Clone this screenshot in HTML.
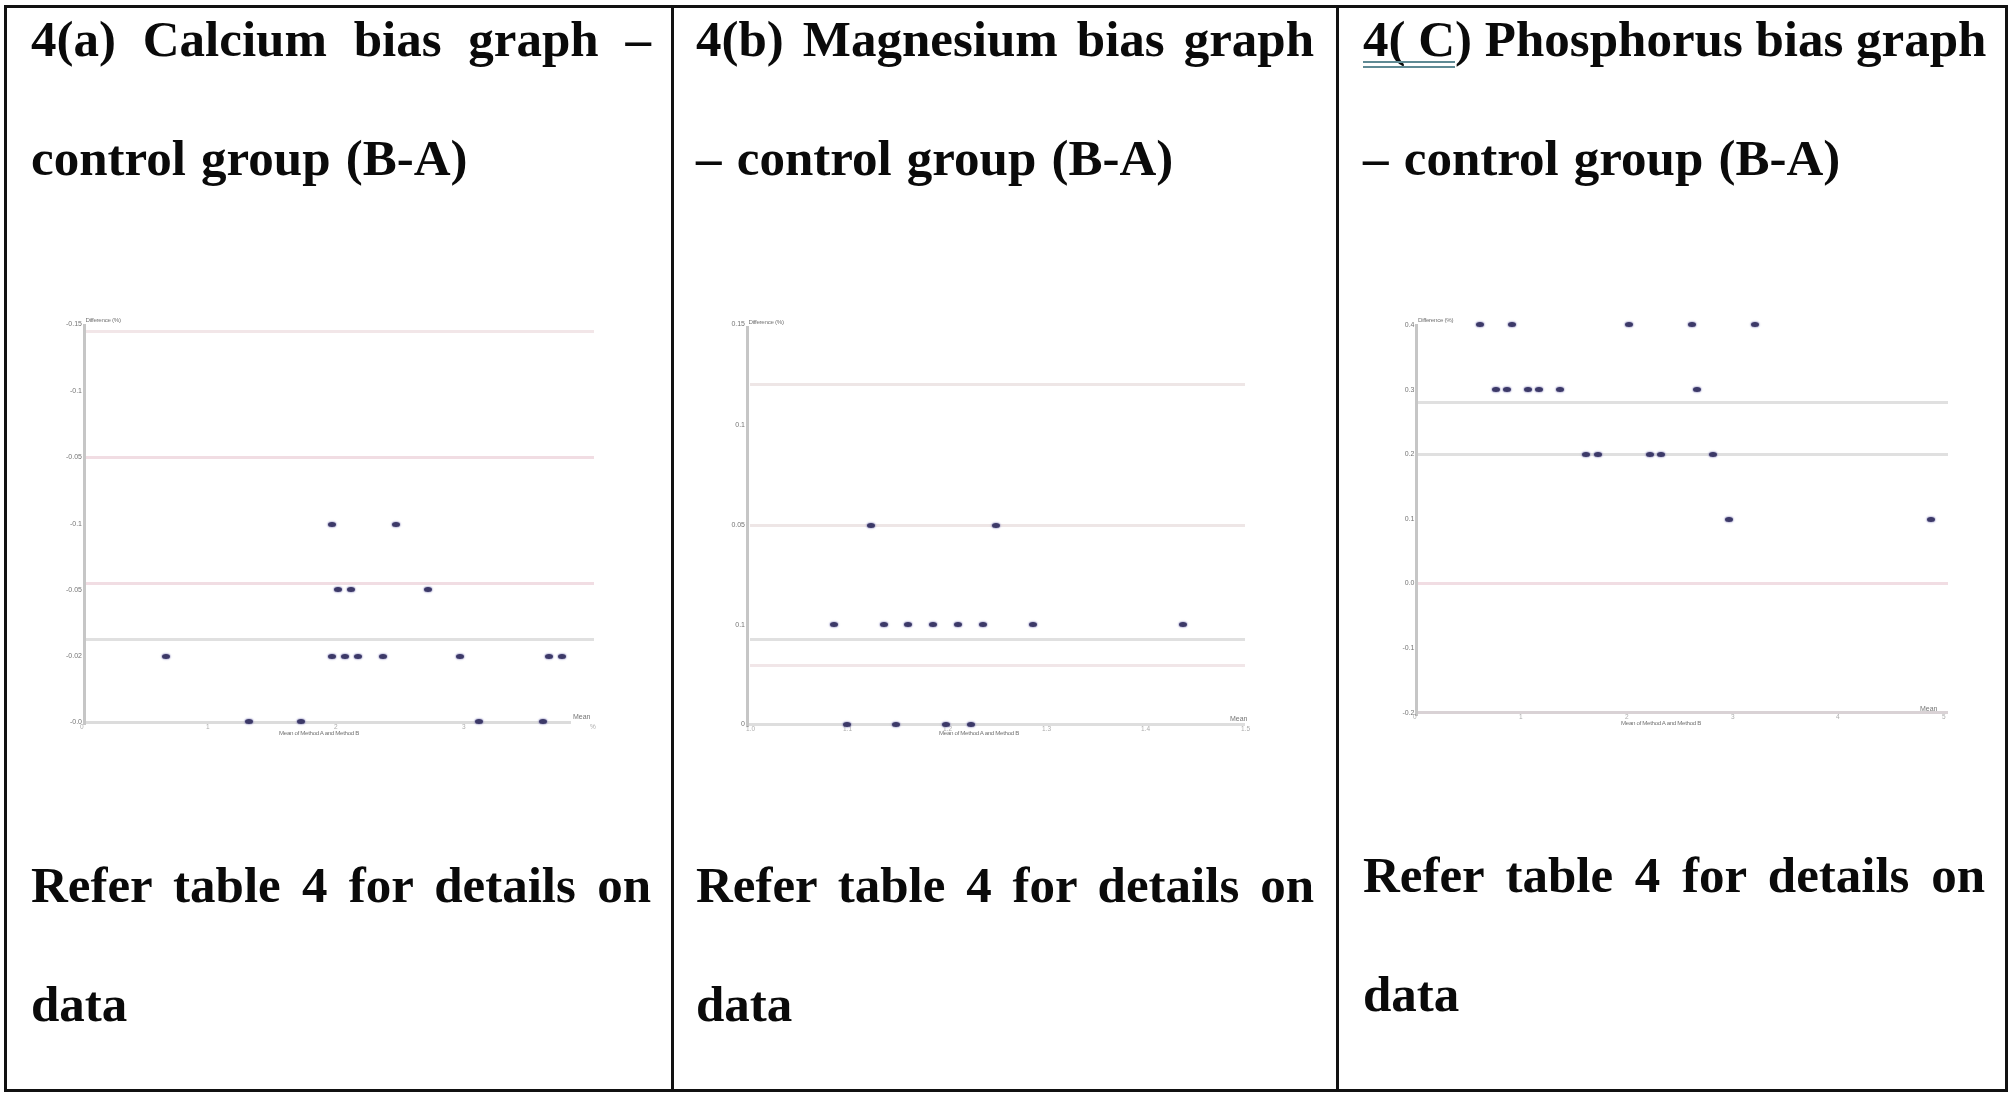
<!DOCTYPE html>
<html><head><meta charset="utf-8"><style>
html,body{margin:0;padding:0;background:#fff;}
body{width:2015px;height:1097px;position:relative;overflow:hidden;}
.t{position:absolute;font-family:"Liberation Serif",serif;font-weight:bold;font-size:51px;line-height:51px;white-space:nowrap;color:#0a0a0a;}
.b{position:absolute;background:#111;}
.r{position:absolute;}
.tk{position:absolute;font-family:"Liberation Sans",sans-serif;line-height:8px;color:#444;white-space:nowrap;opacity:.75;filter:blur(0.5px);}
.p{position:absolute;width:8px;height:5px;border-radius:50%;background:#3c3968;box-shadow:0 0 1.3px 0.7px rgba(95,90,165,.45);}
</style></head><body>
<div class="b" style="left:5px;top:5px;width:2003px;height:3px;"></div>
<div class="b" style="left:4px;top:5px;width:3px;height:1087px;"></div>
<div class="b" style="left:2005px;top:5px;width:3px;height:1087px;"></div>
<div class="b" style="left:4px;top:1089px;width:2004px;height:3px;"></div>
<div class="b" style="left:671px;top:5px;width:3px;height:1087px;"></div>
<div class="b" style="left:1336px;top:5px;width:3px;height:1087px;"></div>
<div class="t" style="left:31px;top:13.79px;width:620px;text-align:justify;text-align-last:justify;">4(a) Calcium bias graph &ndash;</div>
<div class="t" style="left:31px;top:132.79px;width:620px;word-spacing:2.5px;">control group (B-A)</div>
<div class="t" style="left:31px;top:860.09px;width:620px;text-align:justify;text-align-last:justify;">Refer table 4 for details on</div>
<div class="t" style="left:31px;top:979.49px;width:620px;">data</div>
<div class="t" style="left:696px;top:13.79px;width:618px;text-align:justify;text-align-last:justify;">4(b) Magnesium bias graph</div>
<div class="t" style="left:696px;top:132.79px;width:618px;word-spacing:2.5px;">&ndash; control group (B-A)</div>
<div class="t" style="left:696px;top:859.89px;width:618px;text-align:justify;text-align-last:justify;">Refer table 4 for details on</div>
<div class="t" style="left:696px;top:979.29px;width:618px;">data</div>
<div class="t" style="left:1363px;top:13.59px;width:622px;text-align:justify;text-align-last:justify;">4( C) Phosphorus bias graph</div>
<div class="t" style="left:1363px;top:132.79px;width:622px;word-spacing:2.5px;">&ndash; control group (B-A)</div>
<div class="t" style="left:1363px;top:850.49px;width:622px;text-align:justify;text-align-last:justify;">Refer table 4 for details on</div>
<div class="t" style="left:1363px;top:969.49px;width:622px;">data</div>
<div class="r" style="left:1363px;top:61px;width:92px;height:1.6px;background:#5f8a94;"></div>
<div class="r" style="left:1363px;top:66px;width:92px;height:1.6px;background:#5f8a94;"></div>
<div class="r" style="left:85.0px;top:330.0px;width:509.0px;height:3.0px;background:#f2e6e8;"></div>
<div class="r" style="left:85.0px;top:455.5px;width:509.0px;height:3.0px;background:#f1dde3;"></div>
<div class="r" style="left:85.0px;top:582.3px;width:509.0px;height:3.0px;background:#f1dde3;"></div>
<div class="r" style="left:85.0px;top:638.0px;width:509.0px;height:3.0px;background:#e0e0e0;"></div>
<div class="r" style="left:84.0px;top:720.5px;width:487.0px;height:3.0px;background:#dcdcdc;"></div>
<div class="r" style="left:82.5px;top:324.0px;width:3.0px;height:401.0px;background:#c6c6c6;"></div>
<div class="tk" style="left:65.0px;top:320.0px;font-size:7px;width:17px;text-align:right;">-0.15</div>
<div class="tk" style="left:65.0px;top:386.5px;font-size:7px;width:17px;text-align:right;">-0.1</div>
<div class="tk" style="left:65.0px;top:453.0px;font-size:7px;width:17px;text-align:right;">-0.05</div>
<div class="tk" style="left:65.0px;top:519.5px;font-size:7px;width:17px;text-align:right;">-0.1</div>
<div class="tk" style="left:65.0px;top:586.0px;font-size:7px;width:17px;text-align:right;">-0.05</div>
<div class="tk" style="left:65.0px;top:652.0px;font-size:7px;width:17px;text-align:right;">-0.02</div>
<div class="tk" style="left:65.0px;top:718.0px;font-size:7px;width:17px;text-align:right;">-0.0</div>
<div class="tk" style="left:85.5px;top:315.5px;font-size:6.2px;letter-spacing:-0.3px;">Difference (%)</div>
<div class="tk" style="left:80.0px;top:723.0px;font-size:6.5px;opacity:.45;">0</div>
<div class="tk" style="left:206.0px;top:723.0px;font-size:6.5px;opacity:.45;">1</div>
<div class="tk" style="left:334.0px;top:723.0px;font-size:6.5px;opacity:.45;">2</div>
<div class="tk" style="left:462.0px;top:723.0px;font-size:6.5px;opacity:.45;">3</div>
<div class="tk" style="left:590.0px;top:723.0px;font-size:6.5px;opacity:.45;">%</div>
<div class="tk" style="left:279.0px;top:728.5px;font-size:6.2px;width:99px;letter-spacing:-0.35px;overflow:hidden;">Mean of Method A and Method B</div>
<div class="tk" style="left:573.0px;top:713.0px;font-size:7px;">Mean</div>
<div class="p" style="left:327.9px;top:521.5px;"></div>
<div class="p" style="left:391.7px;top:521.5px;"></div>
<div class="p" style="left:334.3px;top:587.1px;"></div>
<div class="p" style="left:347.3px;top:587.1px;"></div>
<div class="p" style="left:423.6px;top:587.1px;"></div>
<div class="p" style="left:161.9px;top:653.5px;"></div>
<div class="p" style="left:327.9px;top:653.5px;"></div>
<div class="p" style="left:340.9px;top:653.5px;"></div>
<div class="p" style="left:353.7px;top:653.5px;"></div>
<div class="p" style="left:379.2px;top:653.5px;"></div>
<div class="p" style="left:455.6px;top:653.5px;"></div>
<div class="p" style="left:545.1px;top:653.5px;"></div>
<div class="p" style="left:558.1px;top:653.5px;"></div>
<div class="p" style="left:244.8px;top:719.1px;"></div>
<div class="p" style="left:297.0px;top:719.1px;"></div>
<div class="p" style="left:474.9px;top:719.1px;"></div>
<div class="p" style="left:538.8px;top:719.1px;"></div>
<div class="r" style="left:750.0px;top:382.5px;width:495.0px;height:3.0px;background:#eee6e6;"></div>
<div class="r" style="left:750.0px;top:523.5px;width:495.0px;height:3.0px;background:#eee6e6;"></div>
<div class="r" style="left:750.0px;top:637.9px;width:495.0px;height:3.0px;background:#e0e0e0;"></div>
<div class="r" style="left:750.0px;top:663.9px;width:495.0px;height:3.0px;background:#f1e6e8;"></div>
<div class="r" style="left:747.0px;top:722.9px;width:498.0px;height:3.0px;background:#dedede;"></div>
<div class="r" style="left:745.5px;top:326.0px;width:3.0px;height:401.0px;background:#c6c6c6;"></div>
<div class="tk" style="left:728.0px;top:320.0px;font-size:7px;width:17px;text-align:right;">0.15</div>
<div class="tk" style="left:728.0px;top:420.7px;font-size:7px;width:17px;text-align:right;">0.1</div>
<div class="tk" style="left:728.0px;top:521.0px;font-size:7px;width:17px;text-align:right;">0.05</div>
<div class="tk" style="left:728.0px;top:620.6px;font-size:7px;width:17px;text-align:right;">0.1</div>
<div class="tk" style="left:728.0px;top:720.4px;font-size:7px;width:17px;text-align:right;">0</div>
<div class="tk" style="left:748.5px;top:317.5px;font-size:6.2px;letter-spacing:-0.3px;">Difference (%)</div>
<div class="tk" style="left:746.0px;top:725.0px;font-size:6.5px;opacity:.45;">1.0</div>
<div class="tk" style="left:843.0px;top:725.0px;font-size:6.5px;opacity:.45;">1.1</div>
<div class="tk" style="left:943.0px;top:725.0px;font-size:6.5px;opacity:.45;">1.2</div>
<div class="tk" style="left:1042.0px;top:725.0px;font-size:6.5px;opacity:.45;">1.3</div>
<div class="tk" style="left:1141.0px;top:725.0px;font-size:6.5px;opacity:.45;">1.4</div>
<div class="tk" style="left:1241.0px;top:725.0px;font-size:6.5px;opacity:.45;">1.5</div>
<div class="tk" style="left:939.0px;top:728.7px;font-size:6.2px;width:96px;letter-spacing:-0.35px;overflow:hidden;">Mean of Method A and Method B</div>
<div class="tk" style="left:1230.0px;top:715.0px;font-size:7px;">Mean</div>
<div class="p" style="left:829.7px;top:622.1px;"></div>
<div class="p" style="left:879.6px;top:622.1px;"></div>
<div class="p" style="left:904.2px;top:622.1px;"></div>
<div class="p" style="left:929.2px;top:622.1px;"></div>
<div class="p" style="left:954.1px;top:622.1px;"></div>
<div class="p" style="left:979.4px;top:622.1px;"></div>
<div class="p" style="left:1029.3px;top:622.1px;"></div>
<div class="p" style="left:1179.0px;top:622.1px;"></div>
<div class="p" style="left:866.8px;top:522.5px;"></div>
<div class="p" style="left:991.7px;top:522.5px;"></div>
<div class="p" style="left:842.7px;top:721.9px;"></div>
<div class="p" style="left:891.9px;top:721.9px;"></div>
<div class="p" style="left:941.8px;top:721.9px;"></div>
<div class="p" style="left:967.1px;top:721.9px;"></div>
<div class="r" style="left:1418.0px;top:400.8px;width:530.0px;height:3.0px;background:#e0e0e0;"></div>
<div class="r" style="left:1418.0px;top:452.8px;width:530.0px;height:3.0px;background:#e0e0e0;"></div>
<div class="r" style="left:1418.0px;top:582.3px;width:530.0px;height:3.0px;background:#f1dde3;"></div>
<div class="r" style="left:1416.5px;top:711.3px;width:531.5px;height:3.0px;background:#d9d2d5;"></div>
<div class="r" style="left:1415.0px;top:324.0px;width:3.0px;height:392.0px;background:#c6c6c6;"></div>
<div class="tk" style="left:1397.5px;top:320.5px;font-size:7px;width:17px;text-align:right;">0.4</div>
<div class="tk" style="left:1397.5px;top:385.6px;font-size:7px;width:17px;text-align:right;">0.3</div>
<div class="tk" style="left:1397.5px;top:450.0px;font-size:7px;width:17px;text-align:right;">0.2</div>
<div class="tk" style="left:1397.5px;top:514.9px;font-size:7px;width:17px;text-align:right;">0.1</div>
<div class="tk" style="left:1397.5px;top:579.4px;font-size:7px;width:17px;text-align:right;">0.0</div>
<div class="tk" style="left:1397.5px;top:643.6px;font-size:7px;width:17px;text-align:right;">-0.1</div>
<div class="tk" style="left:1397.5px;top:709.0px;font-size:7px;width:17px;text-align:right;">-0.2</div>
<div class="tk" style="left:1418.0px;top:315.5px;font-size:6.2px;letter-spacing:-0.3px;">Difference (%)</div>
<div class="tk" style="left:1413.0px;top:713.0px;font-size:6.5px;opacity:.45;">0</div>
<div class="tk" style="left:1519.0px;top:713.0px;font-size:6.5px;opacity:.45;">1</div>
<div class="tk" style="left:1625.0px;top:713.0px;font-size:6.5px;opacity:.45;">2</div>
<div class="tk" style="left:1731.0px;top:713.0px;font-size:6.5px;opacity:.45;">3</div>
<div class="tk" style="left:1836.0px;top:713.0px;font-size:6.5px;opacity:.45;">4</div>
<div class="tk" style="left:1942.0px;top:713.0px;font-size:6.5px;opacity:.45;">5</div>
<div class="tk" style="left:1621.0px;top:719.0px;font-size:6.2px;width:101px;letter-spacing:-0.35px;overflow:hidden;">Mean of Method A and Method B</div>
<div class="tk" style="left:1920.0px;top:705.0px;font-size:7px;">Mean</div>
<div class="p" style="left:1475.9px;top:322.4px;"></div>
<div class="p" style="left:1507.7px;top:322.4px;"></div>
<div class="p" style="left:1624.7px;top:322.4px;"></div>
<div class="p" style="left:1687.6px;top:322.4px;"></div>
<div class="p" style="left:1750.9px;top:322.4px;"></div>
<div class="p" style="left:1491.8px;top:387.2px;"></div>
<div class="p" style="left:1502.5px;top:387.2px;"></div>
<div class="p" style="left:1523.8px;top:387.2px;"></div>
<div class="p" style="left:1534.5px;top:387.2px;"></div>
<div class="p" style="left:1555.8px;top:387.2px;"></div>
<div class="p" style="left:1693.0px;top:387.2px;"></div>
<div class="p" style="left:1582.0px;top:451.9px;"></div>
<div class="p" style="left:1593.5px;top:451.9px;"></div>
<div class="p" style="left:1645.7px;top:451.9px;"></div>
<div class="p" style="left:1656.6px;top:451.9px;"></div>
<div class="p" style="left:1709.0px;top:451.9px;"></div>
<div class="p" style="left:1725.3px;top:516.5px;"></div>
<div class="p" style="left:1926.6px;top:516.5px;"></div>
</body></html>
